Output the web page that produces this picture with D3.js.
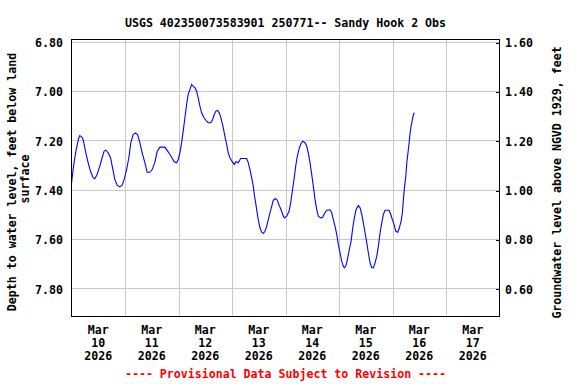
<!DOCTYPE html>
<html>
<head>
<meta charset="utf-8">
<style>
  body { margin: 0; background: #fff; }
  text { font-family: "DejaVu Sans Mono", monospace; font-weight: bold; font-size: 11.6px; }
</style>
</head>
<body>
<div id="container"></div>
<script src="https://d3js.org/d3.v7.min.js"></script>
<script>
// hours after Mar 10 2026 00:00, and depth to water (ft below land surface)
var hours = [0,0.72,1.48,2.25,3.28,3.73,4.94,5.52,6.42,7.45,
  8.53,9.70,10.46,11.49,12.71,13.74,14.64,15.40,16.43,17.51,
  18.41,19.44,20.47,21.69,22.72,23.62,24.70,25.73,26.63,27.66,
  28.74,29.63,30.67,31.70,32.91,33.94,35.16,36.19,37.40,38.43,
  39.65,41.89,42.66,43.69,44.90,46.07,47.15,47.86,48.63,49.39,
  50.11,50.87,51.64,52.35,53.12,53.88,54.60,55.36,56.13,56.84,
  57.61,58.37,59.40,60.62,61.33,62.55,63.31,64.03,64.79,65.55,
  66.27,67.04,68.07,68.83,69.60,70.31,71.08,72.11,73.01,73.77,
  74.80,75.88,78.58,79.29,80.06,80.82,81.54,81.99,82.62,83.07,
  83.78,84.55,85.31,86.03,86.79,87.56,88.27,89.04,89.80,90.52,
  91.60,92.31,93.21,93.98,94.74,95.46,96.54,97.57,98.33,99.05,
  99.81,100.58,101.29,102.19,102.96,103.72,104.75,105.52,106.23,107.00,
  107.76,108.48,109.24,110.01,110.72,111.80,112.70,113.42,114.50,115.98,
  116.74,117.46,118.22,118.99,119.70,120.47,121.23,121.95,122.40,123.16,
  123.92,124.64,125.41,126.17,126.89,127.65,128.69,129.45,130.21,130.93,
  131.69,132.46,133.17,133.94,134.70,135.42,136.18,136.95,137.66,138.43,
  139.19,139.91,140.67,142.47,143.23,143.95,144.71,145.48,146.37,147.09,
  147.86,148.44,148.89,149.34,149.97,150.42,150.86,151.45,151.90,152.35,
  152.93,153.38,153.83];

var depth = [7.374,7.318,7.270,7.230,7.189,7.180,7.189,7.209,7.250,7.290,
  7.325,7.351,7.355,7.338,7.304,7.270,7.243,7.239,7.250,7.270,
  7.311,7.358,7.381,7.388,7.381,7.358,7.318,7.270,7.209,7.176,
  7.169,7.176,7.209,7.250,7.290,7.329,7.329,7.318,7.289,7.245,
  7.227,7.227,7.237,7.250,7.268,7.286,7.290,7.277,7.250,7.209,
  7.162,7.108,7.054,7.013,6.993,6.973,6.980,6.986,7.000,7.027,
  7.061,7.088,7.108,7.122,7.128,7.128,7.115,7.095,7.081,7.078,
  7.088,7.108,7.148,7.183,7.216,7.250,7.270,7.286,7.297,7.286,
  7.290,7.273,7.273,7.290,7.318,7.351,7.385,7.419,7.453,7.480,
  7.521,7.554,7.572,7.577,7.568,7.548,7.521,7.493,7.467,7.442,
  7.435,7.442,7.464,7.480,7.500,7.514,7.507,7.487,7.453,7.406,
  7.358,7.304,7.264,7.230,7.212,7.203,7.209,7.223,7.250,7.290,
  7.338,7.385,7.439,7.480,7.507,7.514,7.511,7.497,7.483,7.481,
  7.493,7.521,7.548,7.581,7.622,7.656,7.690,7.710,7.716,7.707,
  7.676,7.642,7.609,7.554,7.514,7.480,7.464,7.473,7.500,7.534,
  7.574,7.615,7.656,7.696,7.716,7.716,7.696,7.669,7.629,7.574,
  7.534,7.500,7.483,7.483,7.500,7.521,7.541,7.568,7.572,7.554,
  7.527,7.493,7.439,7.392,7.345,7.290,7.257,7.209,7.169,7.142,
  7.115,7.095,7.088];

var depthTicks = [6.8, 7.0, 7.2, 7.4, 7.6, 7.8];
var elevTicks = [1.6, 1.4, 1.2, 1.0, 0.8, 0.6];
var dayLabels = [10, 11, 12, 13, 14, 15, 16, 17];
var datum = 8.40; // land surface elevation, NGVD 1929

var W = 576, H = 384;
var L = 71.5, R = 499.5, T = 39.5, B = 316.5;

var start = new Date(2026, 2, 10);
var end = new Date(2026, 2, 18);

var x = d3.scaleTime().domain([start, end]).range([L, R]);
var y = d3.scaleLinear().domain([6.7907, 7.9135]).range([T, B]);
var yR = d3.scaleLinear().domain([datum - 6.7907, datum - 7.9135]).range([T, B]);

var svg = d3.select("#container").append("svg")
  .attr("width", W).attr("height", H);

// grid
var grid = svg.append("g").attr("stroke", "#c8c8c8").attr("stroke-width", 1)
  .attr("shape-rendering", "crispEdges");
grid.selectAll("line.h").data(depthTicks).enter().append("line")
  .attr("x1", L).attr("x2", R)
  .attr("y1", function (d) { return Math.round(y(d)) + 0.5; })
  .attr("y2", function (d) { return Math.round(y(d)) + 0.5; });
var midnights = d3.timeDay.range(d3.timeDay.offset(start, 1), end);
grid.selectAll("line.v").data(midnights).enter().append("line")
  .attr("y1", T).attr("y2", B)
  .attr("x1", function (d) { return Math.round(x(d)) + 0.5; })
  .attr("x2", function (d) { return Math.round(x(d)) + 0.5; });

// data line
var data = d3.zip(hours, depth).map(function (p) {
  return { t: new Date(start.getTime() + p[0] * 3600e3), v: p[1] };
});
svg.append("path").datum(data)
  .attr("fill", "none").attr("stroke", "#0000ff").attr("stroke-width", 1.1)
  .attr("d", d3.line().x(function (d) { return x(d.t); }).y(function (d) { return y(d.v); }));

// frame
svg.append("rect").attr("x", L).attr("y", T).attr("width", R - L).attr("height", B - T)
  .attr("fill", "none").attr("stroke", "#000").attr("shape-rendering", "crispEdges");

// left axis labels
var axL = svg.append("g").attr("transform", "translate(" + L + ",0)")
  .call(d3.axisLeft(y).tickValues(depthTicks).tickSize(0).tickPadding(8.5).tickFormat(d3.format(".2f")));
axL.select(".domain").remove();
axL.selectAll("text").attr("dy", "0.39em").attr("fill", "#000");

// right axis: short inward ticks + labels
var axR = svg.append("g").attr("transform", "translate(" + R + ",0)")
  .call(d3.axisRight(yR).tickValues(elevTicks).tickSize(-4).tickPadding(5.5).tickFormat(d3.format(".2f")));
axR.select(".domain").remove();
axR.selectAll("line").attr("stroke", "#000").attr("shape-rendering", "crispEdges")
  .attr("transform", function (d) { return "translate(0," + (Math.round(yR(d)) + 0.5 - yR(d)) + ")"; });
axR.selectAll("text").attr("dy", "0.39em").attr("fill", "#000");

// bottom date labels
var noon = dayLabels.map(function (d) { return new Date(2026, 2, d, 12); });
var xl = svg.append("g").selectAll("text").data(noon).enter().append("text")
  .attr("text-anchor", "middle")
  .attr("x", function (d) { return x(d); });
xl.append("tspan").attr("x", function (d) { return x(d); }).attr("y", 334).text("Mar");
xl.append("tspan").attr("x", function (d) { return x(d); }).attr("y", 347.2).text(function (d) { return d.getDate(); });
xl.append("tspan").attr("x", function (d) { return x(d); }).attr("y", 360).text(function (d) { return d.getFullYear(); });

// title
svg.append("text").attr("x", (L + R) / 2).attr("y", 26.7).attr("text-anchor", "middle")
  .text("USGS 402350073583901 250771-- Sandy Hook 2 Obs");

// axis titles
svg.append("text").attr("transform", "translate(15.7,182) rotate(-90)").attr("text-anchor", "middle")
  .text("Depth to water level, feet below land");
svg.append("text").attr("transform", "translate(29.3,179) rotate(-90)").attr("text-anchor", "middle")
  .text("surface");
svg.append("text").attr("transform", "translate(561,182.5) rotate(-90)").attr("text-anchor", "middle")
  .text("Groundwater level above NGVD 1929, feet");

// provisional note
svg.append("text").attr("x", (L + R) / 2).attr("y", 378.3).attr("text-anchor", "middle")
  .attr("fill", "#ff0000")
  .text("---- Provisional Data Subject to Revision ----");
</script>
</body>
</html>
